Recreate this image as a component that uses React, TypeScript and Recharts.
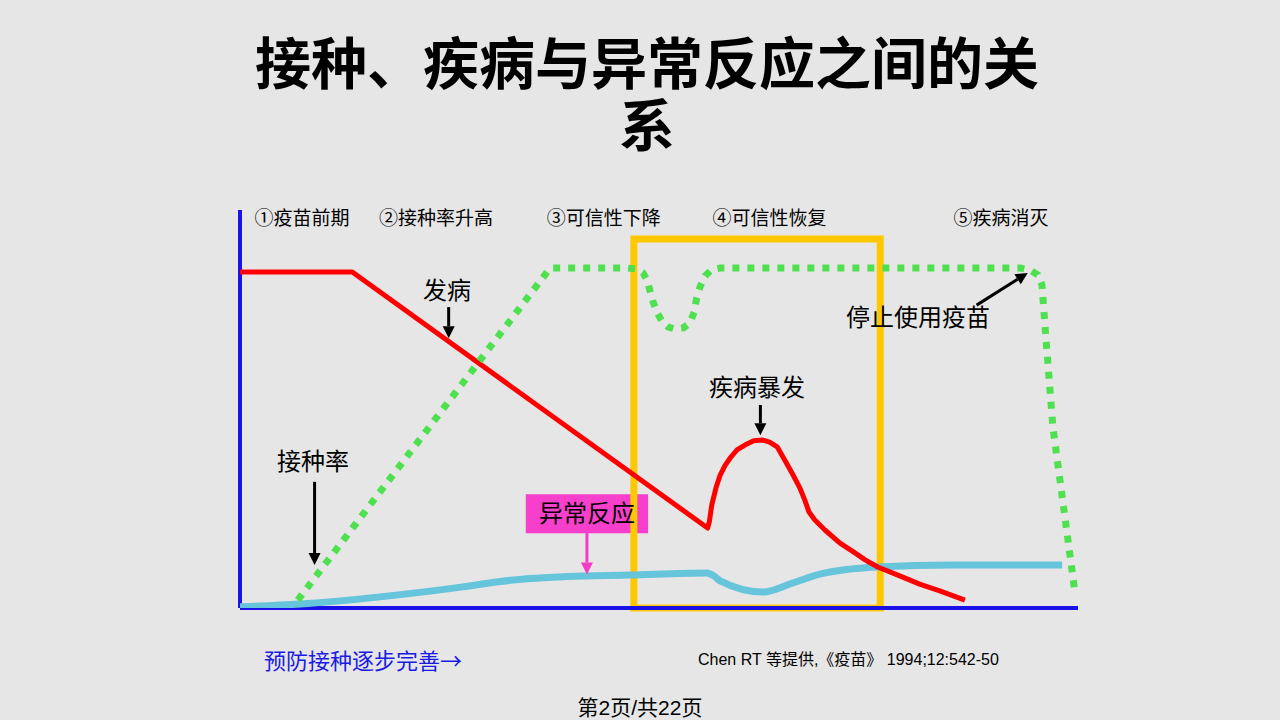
import React from 'react';
import { LineChart, Line, XAxis, YAxis, ReferenceArea, ReferenceDot, ReferenceLine } from 'recharts';

// x: time axis (0-100), y: relative level (0-100)
const diseaseCurve = [
  { x: 0, y: 84.4 }, { x: 13.4, y: 84.4 }, { x: 55.8, y: 20.1 }, { x: 56.0, y: 21.6 },
  { x: 56.3, y: 25.9 }, { x: 56.8, y: 30.2 }, { x: 57.3, y: 33.4 }, { x: 57.9, y: 35.9 },
  { x: 58.5, y: 37.7 }, { x: 59.3, y: 39.7 }, { x: 60.3, y: 41.0 }, { x: 61.3, y: 42.0 },
  { x: 62.4, y: 42.2 }, { x: 63.2, y: 41.7 }, { x: 64.1, y: 40.5 }, { x: 65.0, y: 37.2 },
  { x: 66.0, y: 33.4 }, { x: 66.8, y: 30.2 }, { x: 67.4, y: 27.1 }, { x: 67.9, y: 24.1 },
  { x: 68.6, y: 22.1 }, { x: 69.8, y: 19.6 }, { x: 71.6, y: 16.3 }, { x: 73.2, y: 14.1 },
  { x: 74.6, y: 12.1 }, { x: 76.1, y: 10.3 }, { x: 78.8, y: 8.0 }, { x: 81.1, y: 6.0 },
  { x: 83.5, y: 4.3 }, { x: 86.5, y: 2.0 },
];

const coverageCurve = [
  { x: 6.9, y: 2.0 }, { x: 37.0, y: 85.4 }, { x: 46.3, y: 85.4 }, { x: 47.3, y: 85.2 },
  { x: 48.1, y: 84.2 }, { x: 48.6, y: 82.2 }, { x: 48.9, y: 79.9 }, { x: 49.3, y: 76.9 },
  { x: 49.8, y: 74.1 }, { x: 50.4, y: 71.9 }, { x: 51.1, y: 70.6 }, { x: 51.9, y: 70.1 },
  { x: 52.9, y: 70.4 }, { x: 53.7, y: 71.6 }, { x: 54.2, y: 74.4 }, { x: 54.5, y: 77.9 },
  { x: 54.9, y: 80.7 }, { x: 55.5, y: 83.4 }, { x: 56.2, y: 84.9 }, { x: 57.3, y: 85.4 },
  { x: 93.1, y: 85.4 }, { x: 94.3, y: 84.9 }, { x: 95.2, y: 83.7 }, { x: 95.7, y: 81.2 },
  { x: 96.1, y: 69.8 }, { x: 97.0, y: 45.5 }, { x: 99.6, y: 4.5 },
];

const reactionCurve = [
  { x: 0, y: 0.3 }, { x: 7.2, y: 1.0 }, { x: 16.7, y: 2.8 }, { x: 26.6, y: 5.3 },
  { x: 30.8, y: 6.6 }, { x: 34.6, y: 7.4 }, { x: 39.0, y: 7.9 }, { x: 46.5, y: 8.3 },
  { x: 55.7, y: 8.8 }, { x: 56.6, y: 8.0 }, { x: 57.3, y: 6.8 }, { x: 62.4, y: 4.0 },
  { x: 66.0, y: 6.3 }, { x: 69.2, y: 8.5 }, { x: 76.0, y: 10.3 }, { x: 85.1, y: 10.8 },
  { x: 98.1, y: 10.8 },
];

const phases = [
  { x: 7.4, label: '①疫苗前期' },
  { x: 23.4, label: '②接种率升高' },
  { x: 43.4, label: '③可信性下降' },
  { x: 63.2, label: '④可信性恢复' },
  { x: 90.8, label: '⑤疾病消灭' },
];

const notes = [
  { x: 24.7, y: 79.9, text: '发病' },
  { x: 8.7, y: 36.7, text: '接种率' },
  { x: 61.7, y: 55.5, text: '疾病暴发' },
  { x: 80.9, y: 72.9, text: '停止使用疫苗' },
];

const arrows = [
  { from: { x: 24.9, y: 75.6 }, to: { x: 24.9, y: 67.8 }, color: '#000' },
  { from: { x: 8.9, y: 31.7 }, to: { x: 8.9, y: 10.8 }, color: '#000' },
  { from: { x: 62.1, y: 51.0 }, to: { x: 62.1, y: 43.4 }, color: '#000' },
  { from: { x: 87.9, y: 76.1 }, to: { x: 94.0, y: 84.2 }, color: '#000' },
  { from: { x: 41.4, y: 18.8 }, to: { x: 41.4, y: 8.4 }, color: '#f23cc8' },
];

const reactionBox = { x1: 34.1, x2: 48.7, y1: 18.8, y2: 28.6, text: '异常反应' };
const focusBox = { x1: 47.0, x2: 76.4, y1: 0, y2: 92.7 };

const FONT = '"Liberation Sans", "Noto Sans CJK SC", sans-serif';
const CJK_FIRST = '"Noto Sans CJK SC", "Liberation Sans", sans-serif';

const arrowShape = (color: string) => (p: any) => {
  const { x1, y1, x2, y2 } = p;
  const dx = x2 - x1;
  const dy = y2 - y1;
  const len = Math.sqrt(dx * dx + dy * dy) || 1;
  const ux = dx / len;
  const uy = dy / len;
  const head = 12;
  const half = 6;
  const bx = x2 - ux * head;
  const by = y2 - uy * head;
  return (
    <g>
      <line x1={x1} y1={y1} x2={bx} y2={by} stroke={color} strokeWidth={3} />
      <polygon
        points={`${x2},${y2} ${bx - uy * half},${by + ux * half} ${bx + uy * half},${by - ux * half}`}
        fill={color}
      />
    </g>
  );
};

const noDot = () => <g />;

export default function App() {
  return (
    <div style={{ position: 'absolute', left: 0, top: 0, width: 1280, height: 720, background: '#e6e6e6', fontFamily: FONT, overflow: 'hidden' }}>
      <div style={{ position: 'absolute', left: 14, top: 34, width: 1266, textAlign: 'center', fontSize: 56, fontWeight: 700, lineHeight: '62px', color: '#000' }}>
        接种、疾病与异常反应之间的关<br />系
      </div>

      <LineChart width={1280} height={720} margin={{ top: 210, right: 202, bottom: 112, left: 240 }} style={{ position: 'absolute', left: 0, top: 0 }}>
        <XAxis type="number" dataKey="x" domain={[0, 100]} allowDataOverflow hide />
        <YAxis type="number" dataKey="y" domain={[0, 100]} allowDataOverflow hide />

        <ReferenceLine x={0} stroke="#1a10e8" strokeWidth={4} ifOverflow="visible" />
        <ReferenceLine y={0} stroke="#1a10e8" strokeWidth={4} ifOverflow="visible" />

        <ReferenceArea x1={reactionBox.x1} x2={reactionBox.x2} y1={reactionBox.y1} y2={reactionBox.y2}
          fill="#f63fcb" fillOpacity={1} stroke="none"
          label={{ value: reactionBox.text, position: 'center', fill: '#000', fontSize: 24, fontFamily: FONT }} />

        <Line data={reactionCurve} dataKey="y" type="monotone" stroke="#66c5da" strokeWidth={7}
          dot={false} activeDot={false} isAnimationActive={false} />
        <Line data={diseaseCurve} dataKey="y" type="linear" stroke="#ff0000" strokeWidth={5} strokeLinejoin="round"
          dot={false} activeDot={false} isAnimationActive={false} />
        <Line data={coverageCurve} dataKey="y" type="linear" stroke="#4fe04f" strokeWidth={7} strokeDasharray="7 8"
          dot={false} activeDot={false} isAnimationActive={false} />

        <ReferenceArea x1={focusBox.x1} x2={focusBox.x2} y1={focusBox.y1} y2={focusBox.y2} ifOverflow="visible"
          fill="none" fillOpacity={0} stroke="#ffc800" strokeWidth={7} />

        {arrows.map((a, i) => (
          <ReferenceLine key={`arrow-${i}`} segment={[a.from, a.to]} stroke={a.color} shape={arrowShape(a.color)} />
        ))}

        {phases.map((p) => (
          <ReferenceDot key={p.label} x={p.x} y={98.0} r={0} shape={noDot} ifOverflow="visible"
            label={{ value: p.label, position: 'center', fill: '#000', fontSize: 19, fontFamily: FONT }} />
        ))}
        {notes.map((n) => (
          <ReferenceDot key={n.text} x={n.x} y={n.y} r={0} shape={noDot} ifOverflow="visible"
            label={{ value: n.text, position: 'center', fill: '#000', fontSize: 24, fontFamily: FONT }} />
        ))}
      </LineChart>

      <div style={{ position: 'absolute', left: 264, top: 643, fontSize: 22, color: '#1a1ae6', whiteSpace: 'nowrap', fontFamily: CJK_FIRST }}>
        预防接种逐步完善→
      </div>
      <div style={{ position: 'absolute', left: 698, top: 646, fontSize: 16, color: '#000', whiteSpace: 'nowrap' }}>
        Chen RT 等提供,《疫苗》 1994;12:542-50
      </div>
      <div style={{ position: 'absolute', left: 0, top: 691, width: 1280, textAlign: 'center', fontSize: 21, color: '#000' }}>
        第2页/共22页
      </div>
    </div>
  );
}
